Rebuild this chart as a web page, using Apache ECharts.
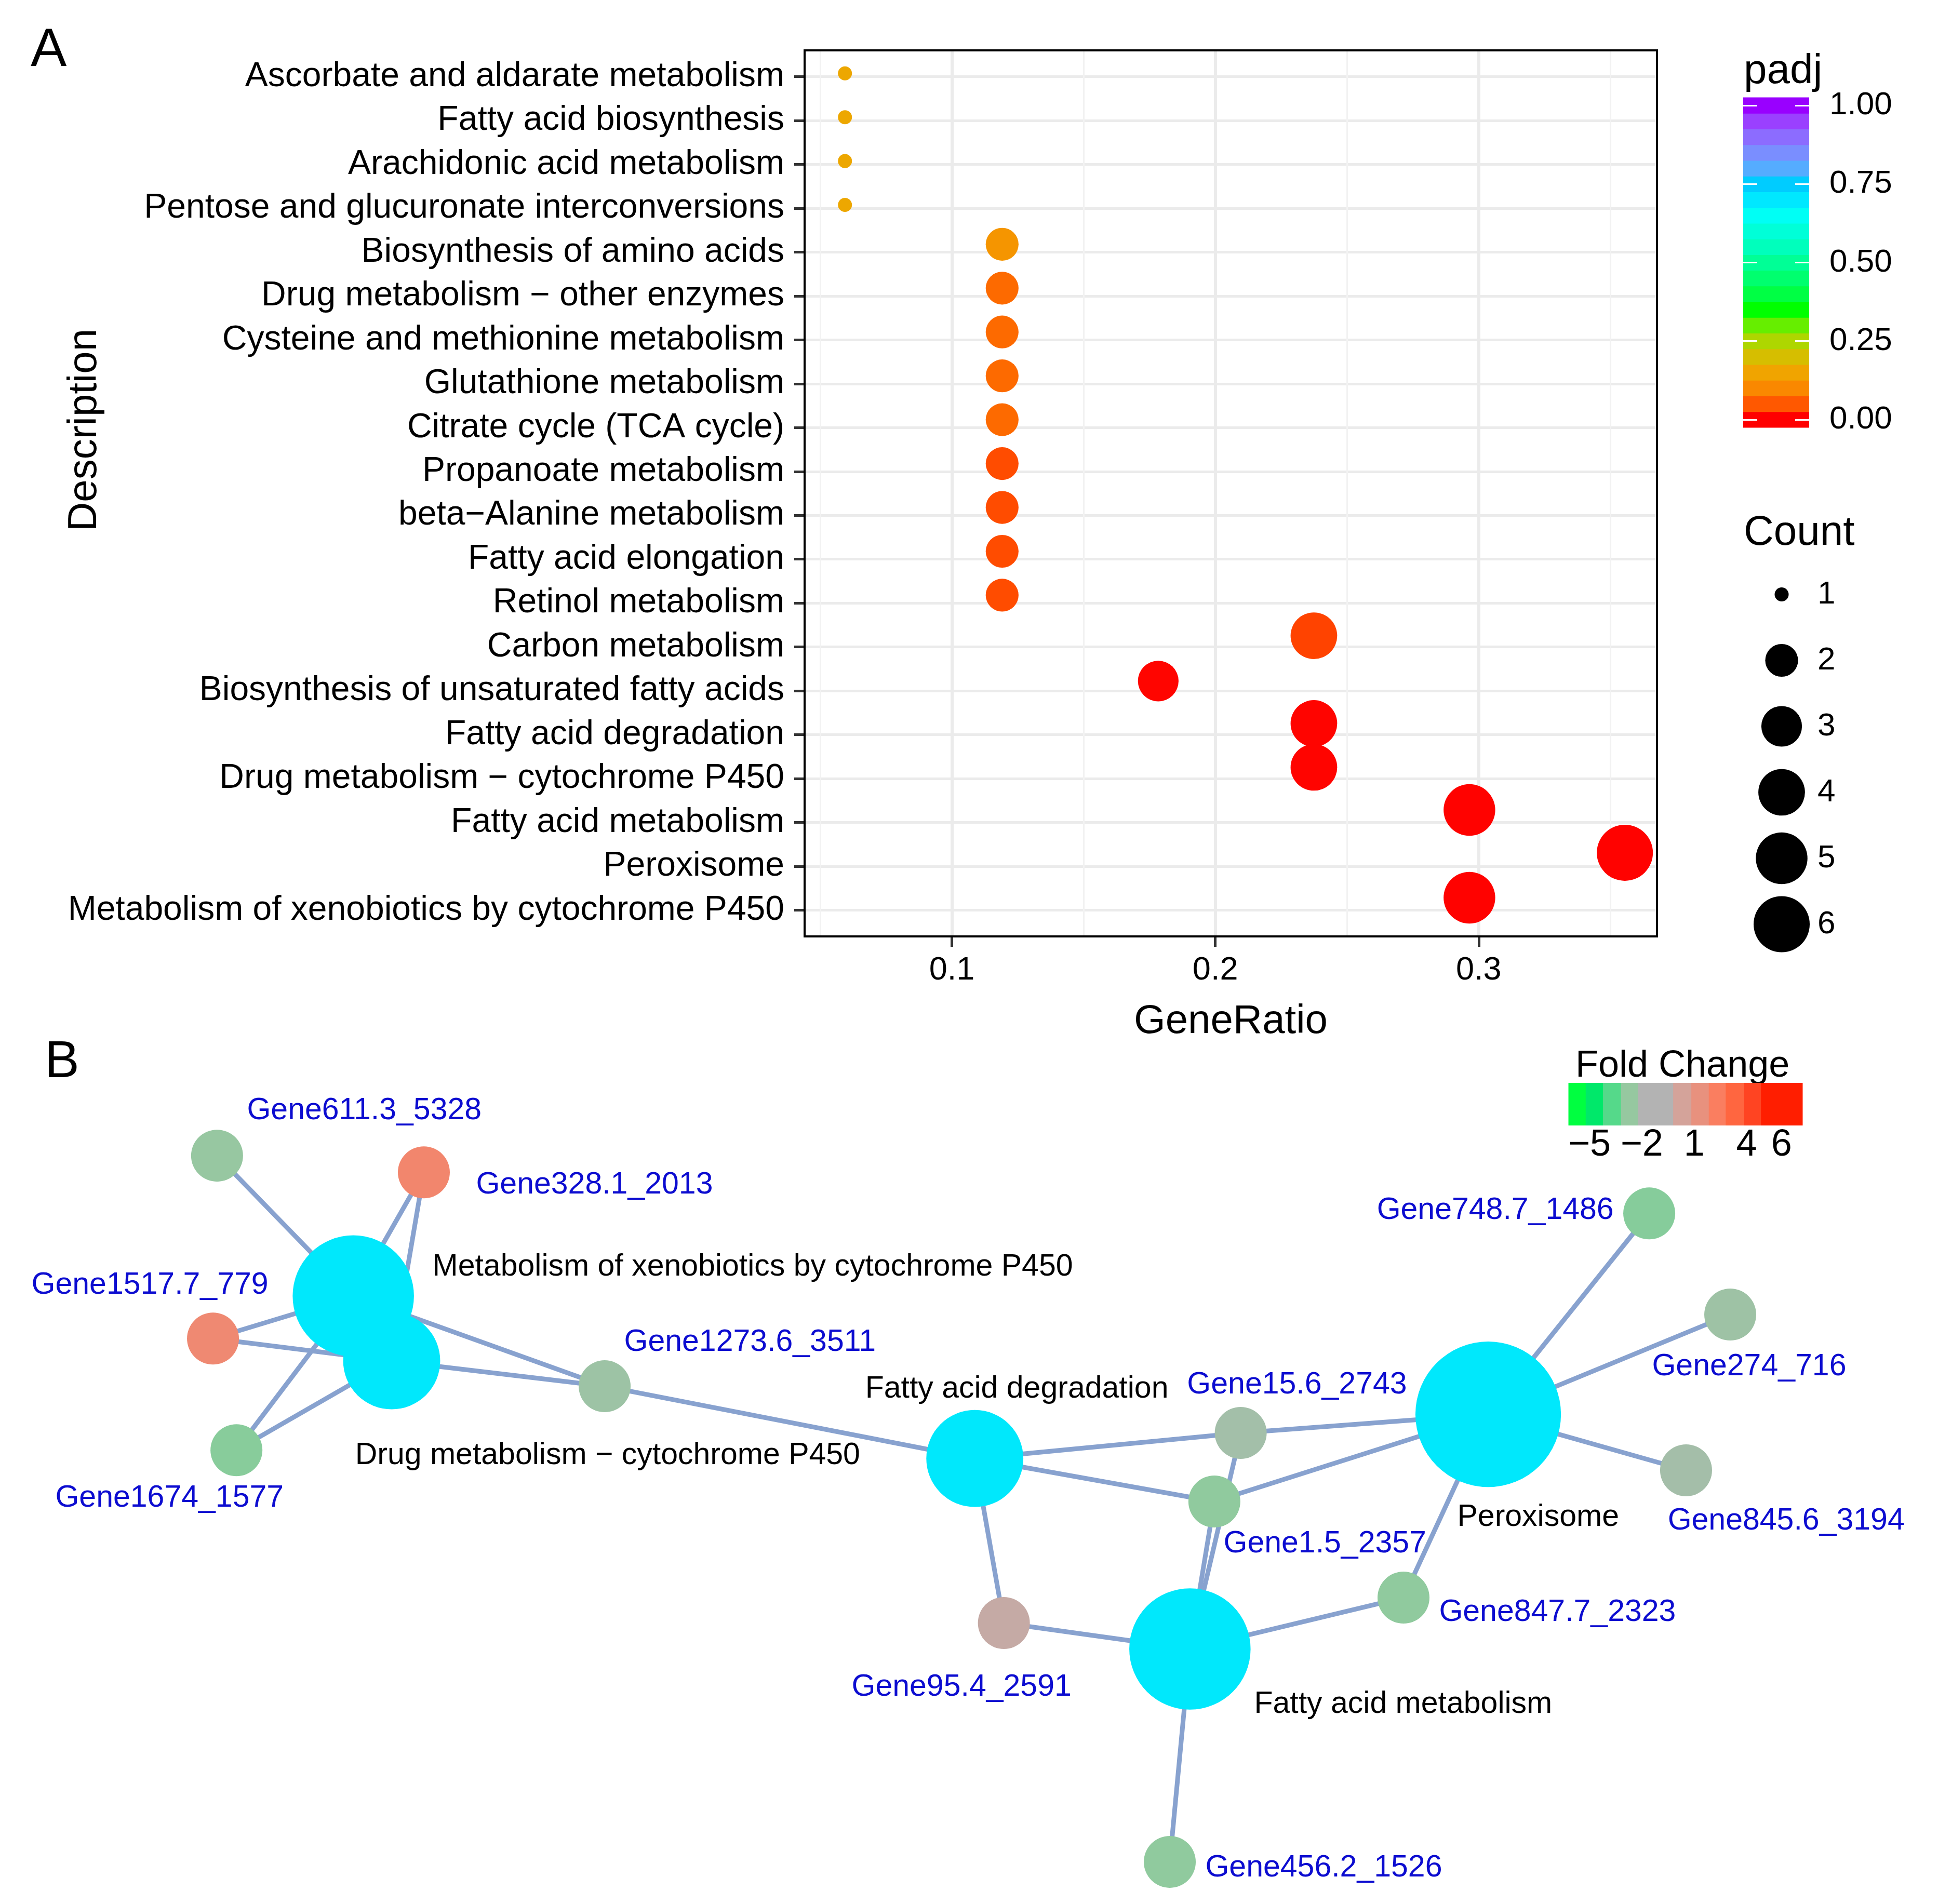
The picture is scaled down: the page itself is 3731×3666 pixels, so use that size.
<!DOCTYPE html>
<html><head><meta charset="utf-8">
<script src="https://cdn.jsdelivr.net/npm/echarts@6/dist/echarts.min.js"></script>
<style>html,body{margin:0;padding:0;background:#fff}#c{width:3731px;height:3666px}</style>
</head><body><div id="c"></div>
<script>
// ---------- Panel A data ----------
const categories = [
  'Ascorbate and aldarate metabolism',
  'Fatty acid biosynthesis',
  'Arachidonic acid metabolism',
  'Pentose and glucuronate interconversions',
  'Biosynthesis of amino acids',
  'Drug metabolism \u2212 other enzymes',
  'Cysteine and methionine metabolism',
  'Glutathione metabolism',
  'Citrate cycle (TCA cycle)',
  'Propanoate metabolism',
  'beta\u2212Alanine metabolism',
  'Fatty acid elongation',
  'Retinol metabolism',
  'Carbon metabolism',
  'Biosynthesis of unsaturated fatty acids',
  'Fatty acid degradation',
  'Drug metabolism \u2212 cytochrome P450',
  'Fatty acid metabolism',
  'Peroxisome',
  'Metabolism of xenobiotics by cytochrome P450'
];
const geneRatio = [0.0588,0.0588,0.0588,0.0588,0.1176,0.1176,0.1176,0.1176,0.1176,0.1176,0.1176,0.1176,0.1176,0.2353,0.1765,0.2353,0.2353,0.2941,0.3529,0.2941];
const geneCount = [1,1,1,1,2,2,2,2,2,2,2,2,2,4,3,4,4,5,6,5];
const padj = [0.156,0.156,0.156,0.156,0.124,0.069,0.069,0.069,0.069,0.043,0.043,0.043,0.043,0.038,0.003,0.002,0.002,0.001,0.001,0.001];
const geneRatioTicks = [0.1, 0.2, 0.3];
const geneRatioMinorTicks = [0.05, 0.15, 0.25, 0.35];
const padjTicks = [0, 0.25, 0.5, 0.75, 1];
// legend band colours for padj = 0, 0.05, ..., 1.00
const padjLegendColors = ['#FF0000','#FF5800','#FA8800','#F0A400','#D6BE00','#AED600','#66EE00','#00FF00','#00FF44','#00FF6E','#00FF96','#00FFBC','#00FFD8','#00FFF5','#00E8FF','#00CCFF','#55ACFF','#7A8EFF','#8C6CFF','#9A40FF','#9900FF'];
const countLegend = [1, 2, 3, 4, 5, 6];

// ---------- Panel B data ----------
const pathwayNodes = ['Metabolism of xenobiotics by cytochrome P450','Drug metabolism \u2212 cytochrome P450','Fatty acid degradation','Peroxisome','Fatty acid metabolism'];
const pathwayNodeCounts = [5, 4, 4, 6, 5];
const pathwayNodeXY = [[18.23,31.25],[20.21,27.90],[50.30,22.86],[76.79,25.14],[61.40,13.03]];
const pathwayLabelXY = [[22.30,32.73],[18.31,23.00],[44.63,26.45],[75.18,19.81],[64.70,10.18]];
const geneNodes = ['Gene611.3_5328','Gene328.1_2013','Gene1517.7_779','Gene1674_1577','Gene1273.6_3511','Gene748.7_1486','Gene274_716','Gene15.6_2743','Gene1.5_2357','Gene845.6_3194','Gene847.7_2323','Gene95.4_2591','Gene456.2_1526'];
const geneFold = [-2.65, 1.9, 1.74, -2.91, -2.33, -2.94, -2.27, -2.02, -2.78, -1.97, -2.78, -0.36, -2.78];
const geneNodeXY = [[11.20,38.49],[21.87,37.63],[10.99,29.05],[12.20,23.29],[31.20,26.59],[85.10,35.51],[89.28,30.29],[64.02,24.18],[62.66,20.64],[87.00,22.25],[72.42,15.68],[51.80,14.37],[60.36,2.04]];
const geneLabelXY = [[12.73,40.82],[24.55,36.96],[1.61,31.79],[2.84,20.80],[32.19,28.84],[71.03,35.67],[85.23,27.58],[61.24,26.64],[63.12,18.44],[86.04,19.62],[74.24,14.90],[43.93,11.04],[62.18,1.72]];
// [gene index, pathway index]
const edges = [[0,0],[1,0],[1,1],[2,0],[2,1],[3,0],[3,1],[4,0],[4,1],[4,2],[5,3],[6,3],[7,2],[7,3],[7,4],[8,2],[8,3],[8,4],[9,3],[10,3],[10,4],[11,2],[11,4],[12,4]];
const foldTicks = [-5, -2, 1, 4, 6];
const foldBinEdges = [-6.19,-5.2,-4.21,-3.18,-2.2,-0.19,0.85,1.85,2.82,3.88,4.84,7.2];
const foldBinColors = ['#00FF40','#00E86A','#55D98A','#96C8A0','#B3B3B3','#D4A39A','#E8917E','#FA7E60','#FF6640','#FF4422','#FF1E00'];

// ---------- helpers ----------
const FONT = '"Liberation Sans", Arial, Helvetica, sans-serif';
const countSize = c => 27 + 81 * Math.sqrt((c - 1) / 5);
// the reference's dot glyphs sit slightly up/right of their true position
const dotOffset = d => [0.12 * d, -0.24 * d];
const pathwaySize = c => 46.7 * c;
const GENE_SIZE = 100;
const PATHWAY_COLOR = '#00E8FC';
const minusFmt = v => (v < 0 ? '\u2212' + Math.abs(v) : String(v));
function hexToRgb(h){return [parseInt(h.slice(1,3),16),parseInt(h.slice(3,5),16),parseInt(h.slice(5,7),16)];}
const foldStops = foldBinColors.map((c,i)=>({v:(foldBinEdges[i]+foldBinEdges[i+1])/2, c:hexToRgb(c)}));
function foldColor(v){
  if (v <= foldStops[0].v) return 'rgb('+foldStops[0].c.join(',')+')';
  for (let i=0;i<foldStops.length-1;i++){
    const a=foldStops[i], b=foldStops[i+1];
    if (v<=b.v){const t=(v-a.v)/(b.v-a.v);return 'rgb('+a.c.map((x,k)=>Math.round(x+(b.c[k]-x)*t)).join(',')+')';}
  }
  return 'rgb('+foldStops[foldStops.length-1].c.join(',')+')';
}

const catIdx = categories.map((_, i) => i);

// graph nodes/links
const graphNodes = pathwayNodes.map((n,i)=>({name:n, value:pathwayNodeXY[i], symbolSize:pathwaySize(pathwayNodeCounts[i]), itemStyle:{color:PATHWAY_COLOR}}))
  .concat(geneNodes.map((n,i)=>({name:n, value:geneNodeXY[i], symbolSize:GENE_SIZE, itemStyle:{color:foldColor(geneFold[i])}})));
const graphLinks = edges.map(([g,p])=>({source: pathwayNodes.length + g, target: p}));
const labelData = pathwayNodes.map((n,i)=>({name:n, value:pathwayLabelXY[i], label:{color:'#000'}}))
  .concat(geneNodes.map((n,i)=>({name:n, value:geneLabelXY[i], label:{color:'#0C0CD0'}})));

const dotData = categories.map((c,i)=>{
  const d = countSize(geneCount[i]);
  return {value:[geneRatio[i], i, geneCount[i], padj[i]], symbolSize:d, symbolOffset:dotOffset(d)};
});

const chart = echarts.init(document.getElementById('c'), null, {renderer:'canvas'});
const option = {
  backgroundColor:'#fff',
  animation:false,
  textStyle:{fontFamily:FONT},
  grid:[
    {left:1549, top:97, width:1641, height:1706, show:true, borderColor:'#000', borderWidth:4, backgroundColor:'rgba(0,0,0,0)', z:1},
    {left:3356, top:188, width:127, height:635},
    {left:3380, top:1081, width:100, height:762},
    {left:3020, top:2085, width:450, height:82},
    {left:0, top:1945, width:3731, height:1716}
  ],
  xAxis:[
    {gridIndex:0, type:'value', min:0.04412, max:0.36765, position:'bottom',
     axisLine:{show:false, onZero:false},
     axisTick:{show:true, length:20, lineStyle:{color:'#333', width:5}, customValues:geneRatioTicks},
     axisLabel:{customValues:geneRatioTicks, fontSize:63, color:'#000', margin:34, formatter:v=>v.toFixed(1)},
     splitLine:{show:true, lineStyle:{color:'#EBEBEB', width:6}},
     name:'GeneRatio', nameLocation:'middle', nameGap:125, nameTextStyle:{fontSize:78, color:'#000'}},
    {gridIndex:0, type:'value', min:0.04412, max:0.36765, position:'top',
     axisLine:{show:false, onZero:false},
     axisTick:{show:false, customValues:geneRatioMinorTicks},
     axisLabel:{show:false, customValues:geneRatioMinorTicks},
     splitLine:{show:true, lineStyle:{color:'#F2F2F2', width:3}}},
    {gridIndex:1, type:'value', min:0, max:1, show:false},
    {gridIndex:2, type:'value', min:-1, max:1, show:false},
    {gridIndex:3, type:'value', min:-6.19, max:7.2, position:'bottom',
     axisLine:{show:false, onZero:false}, axisTick:{show:false, customValues:foldTicks}, splitLine:{show:false},
     axisLabel:{customValues:foldTicks, fontSize:72, color:'#000', margin:2, formatter:minusFmt}},
    {gridIndex:4, type:'value', min:0, max:100, show:false}
  ],
  yAxis:[
    {gridIndex:0, type:'value', inverse:true, min:-0.6, max:19.6, position:'left',
     axisLine:{show:false, onZero:false},
     axisTick:{show:true, length:20, lineStyle:{color:'#333', width:5}, customValues:catIdx},
     axisLabel:{customValues:catIdx, fontSize:66, color:'#000', margin:39, padding:[0,0,8,0], formatter:v=>categories[Math.round(v)]},
     splitLine:{show:true, lineStyle:{color:'#EBEBEB', width:5}}},
    {gridIndex:1, type:'value', min:-0.025, max:1.025, position:'left', z:10,
     axisLine:{show:false, onZero:false}, splitLine:{show:false},
     axisTick:{show:true, inside:true, length:27, lineStyle:{color:'#fff', width:3}, customValues:padjTicks},
     axisLabel:{show:false, customValues:padjTicks}},
    {gridIndex:1, type:'value', min:-0.025, max:1.025, position:'right', z:10,
     axisLine:{show:false, onZero:false}, splitLine:{show:false},
     axisTick:{show:true, inside:true, length:27, lineStyle:{color:'#fff', width:3}, customValues:padjTicks},
     axisLabel:{customValues:padjTicks, fontSize:62, color:'#000', margin:39, padding:[10,0,0,0], formatter:v=>v.toFixed(2)}},
    {gridIndex:2, type:'category', data:countLegend.map(String), inverse:true, position:'right',
     axisLine:{show:false, onZero:false}, axisTick:{show:false}, splitLine:{show:false},
     axisLabel:{fontSize:62, color:'#000', margin:19}},
    {gridIndex:3, type:'value', min:0, max:1, show:false},
    {gridIndex:4, type:'value', min:0, max:46, show:false}
  ],
  visualMap:[{type:'continuous', show:false, seriesIndex:0, dimension:3, min:0, max:1, inRange:{color:padjLegendColors}}],
  series:[
    {type:'scatter', xAxisIndex:0, yAxisIndex:0, z:3,
     data:dotData, itemStyle:{opacity:1}, emphasis:{disabled:true}},
    {type:'custom', xAxisIndex:2, yAxisIndex:1, z:2,
     data:padjLegendColors.map((_,k)=>[k*0.05]),
     renderItem:(params, api)=>{
       const v = api.value(0);
       const p0 = api.coord([0, v-0.025]), p1 = api.coord([1, v+0.025]);
       return {type:'rect', shape:{x:p0[0], y:p1[1]-0.5, width:p1[0]-p0[0], height:p0[1]-p1[1]+1}, style:{fill:padjLegendColors[params.dataIndex]}};
     }},
    {type:'scatter', xAxisIndex:3, yAxisIndex:3,
     data:countLegend.map(c=>[0, String(c), c]),
     symbolSize:d=>countSize(d[2]), itemStyle:{color:'#000', opacity:1}, emphasis:{disabled:true}},
    {type:'custom', xAxisIndex:4, yAxisIndex:4,
     data:foldBinColors.map((_,i)=>[foldBinEdges[i], foldBinEdges[i+1]]),
     renderItem:(params, api)=>{
       const p0 = api.coord([api.value(0), 0]), p1 = api.coord([api.value(1), 1]);
       return {type:'rect', shape:{x:p0[0]-0.5, y:p1[1], width:p1[0]-p0[0]+1, height:p0[1]-p1[1]}, style:{fill:foldBinColors[params.dataIndex]}};
     }},
    {type:'graph', coordinateSystem:'cartesian2d', xAxisIndex:5, yAxisIndex:5, layout:'none', z:2,
     symbol:'circle', data:graphNodes, links:graphLinks, roam:false,
     itemStyle:{opacity:1},
     label:{show:false}, emphasis:{disabled:true},
     lineStyle:{color:'#88A2CF', width:9, opacity:1, curveness:0}},
    {type:'scatter', xAxisIndex:5, yAxisIndex:5, z:5, silent:true,
     symbolSize:1, itemStyle:{color:'rgba(0,0,0,0)', opacity:1},
     data:labelData, emphasis:{disabled:true},
     label:{show:true, position:'right', distance:0, formatter:'{b}', fontSize:59, fontFamily:FONT, opacity:1}}
  ],
  graphic:[
    {type:'text', x:59, y:98, style:{text:'A', font:'104px '+FONT, fill:'#000', align:'left', verticalAlign:'middle'}},
    {type:'text', x:86, y:2046, style:{text:'B', font:'100px '+FONT, fill:'#000', align:'left', verticalAlign:'middle'}},
    {type:'text', x:163, y:828, rotation:Math.PI/2, style:{text:'Description', font:'78px '+FONT, fill:'#000', align:'center', verticalAlign:'middle'}},
    {type:'text', x:3357, y:138, style:{text:'padj', font:'80px '+FONT, fill:'#000', align:'left', verticalAlign:'middle'}},
    {type:'text', x:3357, y:1027, style:{text:'Count', font:'80px '+FONT, fill:'#000', align:'left', verticalAlign:'middle'}},
    {type:'text', x:3033, y:2053, style:{text:'Fold Change', font:'72px '+FONT, fill:'#000', align:'left', verticalAlign:'middle'}}
  ]
};
chart.setOption(option);
</script>
</body></html>
